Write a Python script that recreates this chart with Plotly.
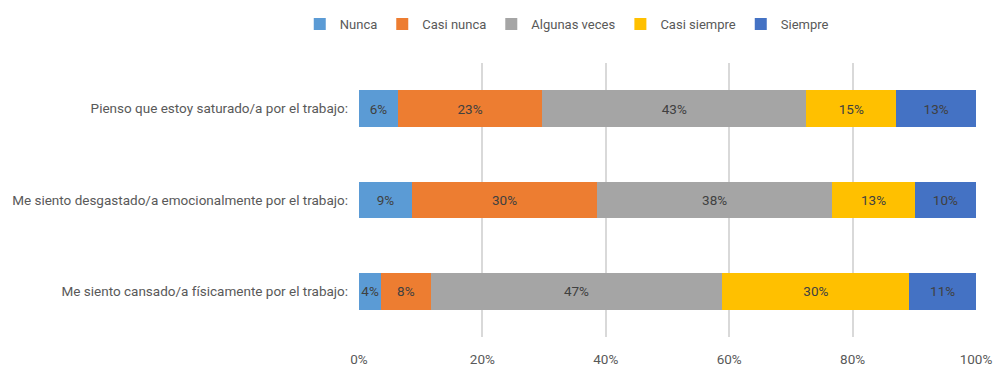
import plotly.graph_objects as go

categories = [
    "Pienso que estoy saturado/a por el trabajo:",
    "Me siento desgastado/a emocionalmente por el trabajo:",
    "Me siento cansado/a físicamente por el trabajo:",
]
series_names = ["Nunca", "Casi nunca", "Algunas veces", "Casi siempre", "Siempre"]
nunca = [6.3, 8.6, 3.6]
casi_nunca = [23.4, 30.0, 8.0]
algunas_veces = [42.8, 38.1, 47.3]
casi_siempre = [14.6, 13.4, 30.3]
siempre = [12.9, 9.9, 10.8]
tick_vals = [0, 20, 40, 60, 80, 100]
tick_text = ["0%", "20%", "40%", "60%", "80%", "100%"]

colors = ["#5B9BD5", "#ED7D31", "#A5A5A5", "#FFC000", "#4472C4"]
values = [nunca, casi_nunca, algunas_veces, casi_siempre, siempre]

FONT = "Roboto, Liberation Sans, Arial, sans-serif"
FS = 13.5

fig = go.Figure()
for name, vals, col in zip(series_names, values, colors):
    fig.add_trace(go.Bar(
        y=categories, x=vals, name=name, orientation="h",
        marker=dict(color=col, line=dict(width=0)),
        texttemplate="%{x:.0f}%", textposition="inside",
        insidetextanchor="middle", textangle=0,
        textfont=dict(color="#404040", size=FS, family=FONT),
        constraintext="none",
    ))

fig.update_layout(
    barmode="stack",
    bargap=0.6,
    width=996, height=367,
    margin=dict(l=351, r=28, t=55, b=38),
    paper_bgcolor="white", plot_bgcolor="white",
    font=dict(family=FONT, size=FS, color="#595959"),
    uniformtext=dict(minsize=8, mode="show"),
    legend=dict(
        orientation="h", xref="container", yref="container",
        x=0.561, xanchor="center", y=0.956, yanchor="middle",
        font=dict(size=13, color="#595959", family=FONT),
        itemwidth=30, traceorder="normal",
    ),
    xaxis=dict(
        range=[0, 100], tickvals=tick_vals, ticktext=tick_text,
        showgrid=True, gridcolor="#D9D9D9", gridwidth=1.5,
        zeroline=False, showline=False, automargin=False,
        tickfont=dict(size=FS, color="#595959", family=FONT),
        ticklabelstandoff=12,
    ),
    yaxis=dict(
        autorange="reversed", showgrid=False, zeroline=False,
        showline=False, automargin=False,
        tickfont=dict(size=FS, color="#595959", family=FONT),
        ticklabelstandoff=10,
    ),
)

fig.write_html("out.html")
